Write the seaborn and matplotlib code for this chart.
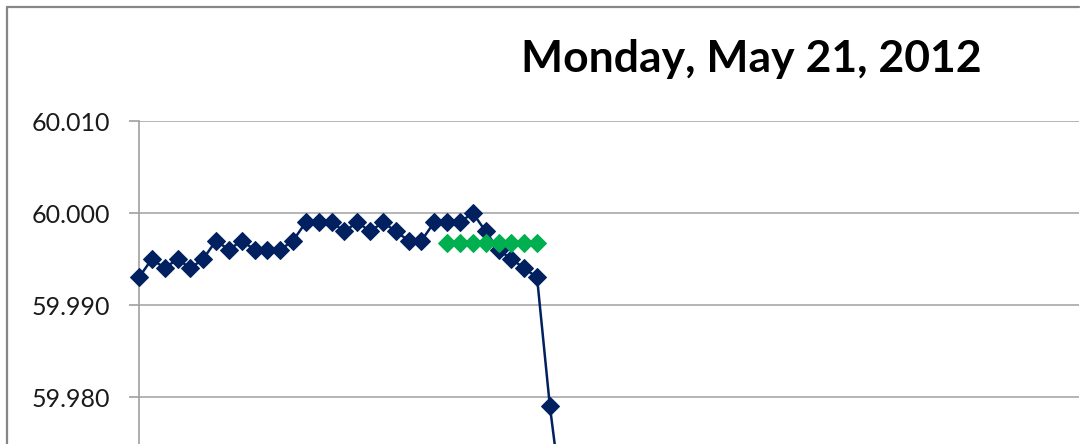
import numpy as np
import pandas as pd
import matplotlib
matplotlib.use('Agg')
import matplotlib.pyplot as plt
from matplotlib.lines import Line2D
import seaborn as sns

sns.set_theme(style='white')
plt.rcParams['font.family'] = ['Lato', 'DejaVu Sans']

# frequency readings (Hz), one per sample
freq = [59.993, 59.995, 59.994, 59.995, 59.994, 59.995, 59.997, 59.996,
        59.997, 59.996, 59.996, 59.996, 59.997, 59.999, 59.999, 59.999,
        59.998, 59.999, 59.998, 59.999, 59.998, 59.997, 59.997, 59.999,
        59.999, 59.999, 60.000, 59.998, 59.996, 59.995, 59.994, 59.993,
        59.979, 59.968]
# reference level shown in green
ref_start = 24
ref_value = [59.9967] * 8

yticks = [59.980, 59.990, 60.000, 60.010]
title = 'Monday, May 21, 2012'

blue = '#002060'
green = '#00B050'
grid = '#B4B4B4'

df = pd.DataFrame({'sample': np.arange(len(freq)), 'freq': freq})
ref = pd.DataFrame({'sample': np.arange(ref_start, ref_start + len(ref_value)),
                    'freq': ref_value})

W, H = 1085, 444
fig = plt.figure(figsize=(W / 100, H / 100), dpi=100)

# plot area: left edge x=139px, 60.010 at y=121px, 92px per 0.010
left, right, top = 139, 1079, 121
ymin, ymax = 59.960, 60.010
span_px = (ymax - ymin) / 0.010 * 92
ax = fig.add_axes([left / W, (H - top - span_px) / H,
                   (right - left) / W, span_px / H])

sns.lineplot(data=df, x='sample', y='freq', ax=ax, color=blue, lw=1.8,
             marker='D', markersize=9, markeredgecolor=blue, zorder=3,
             clip_on=False)
sns.lineplot(data=ref, x='sample', y='freq', ax=ax, color=green, lw=0,
             marker='D', markersize=9, markeredgecolor=green, zorder=4,
             clip_on=False)

ax.set_xlim(0, (right - left) / 12.84)
ax.set_ylim(ymin, ymax)
ax.set_yticks(yticks)
ax.set_yticklabels([f'{v:.3f}' for v in yticks])
ax.set_xticks([])
ax.set_xlabel('')
ax.set_ylabel('')
ax.yaxis.grid(True, color=grid, lw=1.4)
ax.set_axisbelow(True)
for s in ['top', 'right', 'bottom']:
    ax.spines[s].set_visible(False)
ax.spines['left'].set_color('#A0A0A0')
ax.spines['left'].set_linewidth(1.2)
ax.tick_params(axis='y', left=True, length=7.5, width=1.2, color='#A0A0A0',
               pad=13.5, labelsize=18, labelcolor='#1a1a1a')

fig.text(751 / W, (H - 72) / H, title, ha='center', va='baseline',
         fontsize=32, fontweight='bold', color='black')

# outer chart border (cropped at bottom/right)
fig.add_artist(Line2D([7 / W, right / W], [(H - 7) / H] * 2,
                      transform=fig.transFigure, color='#868686', lw=1.6))
fig.add_artist(Line2D([7 / W] * 2, [0, (H - 7) / H],
                      transform=fig.transFigure, color='#868686', lw=1.6))

fig.savefig('out.png', dpi=100)
